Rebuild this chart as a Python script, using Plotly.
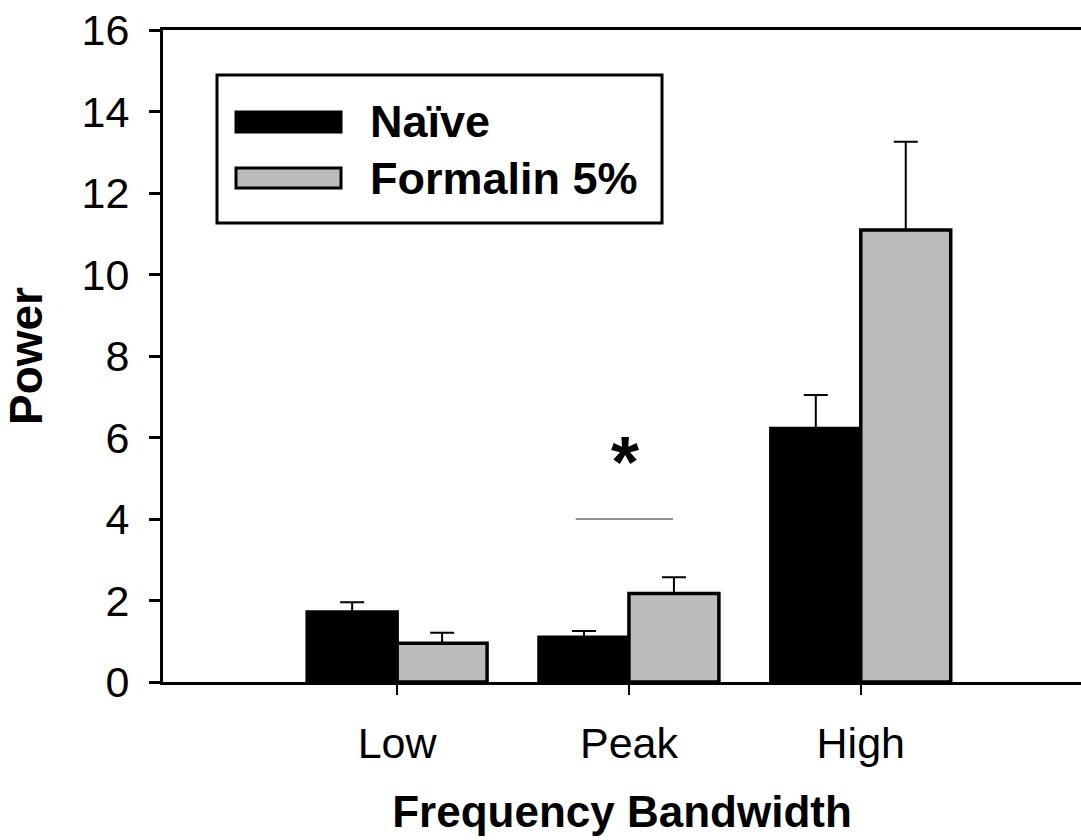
import plotly.graph_objects as go

# ---- data ----
categories = ["Low", "Peak", "High"]
naive = [1.72, 1.10, 6.22]
naive_err = [0.24, 0.15, 0.82]
formalin = [0.95, 2.17, 11.09]
formalin_err = [0.26, 0.40, 2.17]
series_names = ["Naïve", "Formalin 5%"]
y_ticks = [0, 2, 4, 6, 8, 10, 12, 14, 16]
sig_line = {"x0": 0.77, "x1": 1.19, "y": 4.0}
sig_mark = {"x": 0.985, "y": 5.4, "text": "*"}

W, H = 1081, 840
L, R, T, B = 163, 0, 30, 158
PW, PH = W - L - R, H - T - B


def px(xp):
    return (xp - L) / PW


def py(yp):
    return (H - B - yp) / PH


FONT = "Liberation Sans, Arial, sans-serif"
BLACK_FILL = "#000000"
GRAY_FILL = "#BBBBBB"

fig = go.Figure()
fig.add_trace(go.Bar(
    x=categories, y=naive, name=series_names[0],
    marker=dict(color=BLACK_FILL, line=dict(color="black", width=3.5)),
    error_y=dict(type="data", array=naive_err, arrayminus=[0, 0, 0], symmetric=False,
                 color="black", thickness=2, width=12),
    showlegend=False,
))
fig.add_trace(go.Bar(
    x=categories, y=formalin, name=series_names[1],
    marker=dict(color=GRAY_FILL, line=dict(color="black", width=3.5)),
    error_y=dict(type="data", array=formalin_err, arrayminus=[0, 0, 0], symmetric=False,
                 color="black", thickness=2, width=12),
    showlegend=False,
))

# significance line and asterisk
fig.add_shape(type="line", xref="x", yref="y",
              x0=sig_line["x0"], x1=sig_line["x1"], y0=sig_line["y"], y1=sig_line["y"],
              line=dict(color="#6E6E6E", width=1.5))
fig.add_annotation(xref="x", yref="y", x=sig_mark["x"], y=sig_mark["y"], text="<b>*</b>",
                   showarrow=False, font=dict(family=FONT, size=72, color="black"),
                   xanchor="center", yanchor="middle")

# custom legend
fig.add_shape(type="rect", xref="paper", yref="paper",
              x0=px(217), x1=px(662), y0=py(223), y1=py(75),
              line=dict(color="black", width=3), fillcolor="white", layer="above")
legend_rows = [(122, BLACK_FILL, series_names[0]), (178, GRAY_FILL, series_names[1])]
for yc, col, name in legend_rows:
    fig.add_shape(type="rect", xref="paper", yref="paper",
                  x0=px(236), x1=px(341), y0=py(yc + 10), y1=py(yc - 10),
                  line=dict(color="black", width=3), fillcolor=col, layer="above")
    fig.add_annotation(xref="paper", yref="paper", x=px(368), y=py(yc), text=f"<b>{name}</b>",
                       showarrow=False, font=dict(family=FONT, size=45, color="black"),
                       xanchor="left", yanchor="middle")

fig.update_layout(
    width=W, height=H,
    margin=dict(l=L, r=R, t=T, b=B, pad=0, autoexpand=False),
    paper_bgcolor="white", plot_bgcolor="white",
    barmode="group", bargap=0.224, bargroupgap=0,
    font=dict(family=FONT, color="black"),
)
fig.update_xaxes(
    type="category", range=[-1.01, 2.95], automargin=False,
    showline=True, linecolor="black", linewidth=3, mirror=True,
    ticks="outside", ticklen=10, tickwidth=2, tickcolor="black",
    tickfont=dict(family=FONT, size=43, color="black"),
    ticklabelstandoff=11,
    showgrid=False, zeroline=False,
    title=dict(text="<b>Frequency Bandwidth</b>", font=dict(family=FONT, size=44, color="black"),
               standoff=31),
)
fig.update_yaxes(
    range=[0, 16], tickvals=y_ticks, ticktext=[str(v) for v in y_ticks], automargin=False,
    showline=True, linecolor="black", linewidth=3,
    ticks="outside", ticklen=11, tickwidth=3, tickcolor="black",
    tickfont=dict(family=FONT, size=43, color="black"),
    ticklabelstandoff=11,
    showgrid=False, zeroline=False,
    title=dict(text="<b>Power</b>", font=dict(family=FONT, size=46, color="black"),
               standoff=38),
)

fig.write_html("out.html", config={"displayModeBar": False},
               post_script="document.body.style.margin='0px';")
